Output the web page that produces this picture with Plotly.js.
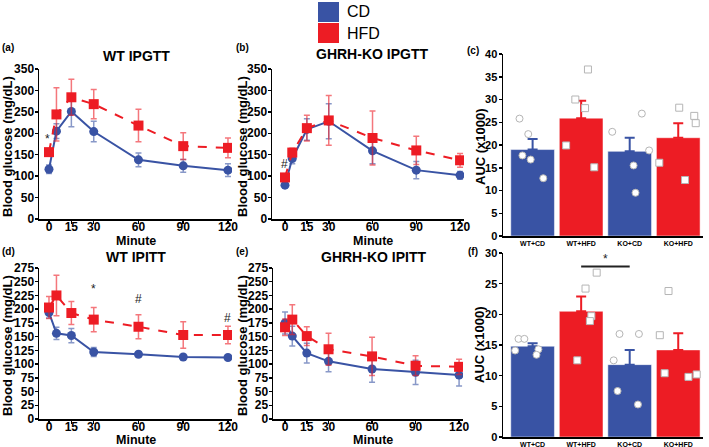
<!DOCTYPE html>
<html>
<head>
<meta charset="utf-8">
<script src="https://cdn.plot.ly/plotly-3.0.1.min.js"></script>
<style>body{margin:0;background:#fff}#chart{width:709px;height:447px}</style>
</head>
<body>
<div id="chart"></div>
<script>
// time points (min)
var minutes = [0, 5, 15, 30, 60, 90, 120];
var minuteTicks = [0, 15, 30, 60, 90, 120];

// (a) WT IPGTT
var gttWtCD = [116, 205, 251, 204, 138, 124, 114];
var gttWtCDErr = [10, 17, 36, 24, 16, 15, 15];
var gttWtHFD = [156, 244, 284, 268, 218, 170, 166];
var gttWtHFDErr = [8, 62, 42, 34, 38, 31, 23];

// (b) GHRH-KO IPGTT
var gttKoCD = [79, 141, 209, 228, 159, 114, 102];
var gttKoCDErr = [4, 12, 25, 41, 30, 20, 9];
var gttKoHFD = [97, 155, 212, 230, 189, 160, 137];
var gttKoHFDErr = [5, 10, 30, 58, 63, 33, 16];

// (d) WT IPITT
var ittWtCD = [194, 156, 152, 122, 118, 113, 112];
var ittWtCDErr = [10, 11, 13, 8, 3, 3, 5];
var ittWtHFD = [203, 225, 193, 181, 168, 153, 153];
var ittWtHFDErr = [20, 37, 21, 22, 22, 24, 16];

// (e) GHRH-KO IPITT
var ittKoCD = [175, 151, 120, 105, 91, 85, 80];
var ittKoCDErr = [20, 18, 18, 19, 24, 22, 20];
var ittKoHFD = [167, 181, 151, 127, 114, 97, 95];
var ittKoHFDErr = [15, 27, 17, 29, 35, 18, 14];

// bar groups
var groups = ['WT+CD', 'WT+HFD', 'KO+CD', 'KO+HFD'];

// (c) AUC IPGTT (x1000)
var aucGtt = [19.0, 25.9, 18.6, 21.6];
var aucGttErr = [2.3, 3.8, 3.0, 3.2];
var aucGttPts = [
    [25.8, 22.4, 17.7, 16.8, 12.7],
    [36.6, 30.0, 28.1, 19.9, 15.1],
    [22.9, 26.9, 18.8, 15.5, 9.5],
    [28.2, 26.4, 24.8, 16.1, 12.3]
];
var aucGttJitter = [
    [-0.27, -0.09, -0.21, -0.04, 0.22],
    [0.14, -0.12, 0.08, -0.31, 0.27],
    [-0.36, 0.25, 0.40, 0.08, 0.12],
    [0.02, 0.33, 0.36, -0.39, 0.14]
];

// (f) AUC IPITT (x1000)
var aucItt = [14.8, 20.5, 11.8, 14.2];
var aucIttErr = [0.5, 2.4, 2.4, 2.7];
var aucIttPts = [
    [16.0, 16.0, 14.1, 14.3, 13.4],
    [26.8, 24.2, 19.7, 18.9, 12.5],
    [16.8, 16.8, 12.5, 7.5, 5.3],
    [23.8, 16.6, 10.4, 9.8, 10.2]
];
var aucIttJitter = [
    [-0.29, -0.17, -0.36, 0.12, 0.08],
    [0.32, 0.09, 0.21, 0.18, -0.08],
    [-0.21, 0.19, -0.33, -0.25, 0.17],
    [-0.20, -0.38, -0.28, 0.21, 0.38]
];

var BLUE = '#3953a4', RED = '#ed1c24';
var BLUE_E = 'rgba(57,83,164,0.6)', RED_E = 'rgba(237,28,36,0.6)';
var FONT = 'Liberation Sans, Arial, sans-serif';

function lineTrace(y, err, color, errColor, symbol, size, dash, xa, ya) {
    return {
        x: minutes, y: y, xaxis: xa, yaxis: ya,
        type: 'scatter', mode: 'lines+markers',
        line: {color: color, width: 2, dash: dash},
        marker: {color: color, symbol: symbol, size: size},
        error_y: {type: 'data', array: err, color: errColor, thickness: 1.5, width: 3},
        showlegend: false, hoverinfo: 'skip'
    };
}

function barTraces(vals, errs, pts, jit, xa, ya) {
    var out = [];
    [[0, 2, BLUE], [1, 3, RED]].forEach(function (g) {
        out.push({
            x: [g[0], g[1]], y: [vals[g[0]], vals[g[1]]], xaxis: xa, yaxis: ya,
            type: 'bar', width: 0.9,
            marker: {color: g[2], line: {color: 'rgba(255,255,255,0.5)', width: 1}},
            error_y: {type: 'data', symmetric: false, array: [errs[g[0]], errs[g[1]]],
                arrayminus: [0, 0], color: g[2], thickness: 2, width: 5},
            showlegend: false, hoverinfo: 'skip'
        });
    });
    for (var i = 0; i < groups.length; i++) {
        out.push({
            x: jit[i].map(function (j) { return i + j; }), y: pts[i], xaxis: xa, yaxis: ya,
            type: 'scatter', mode: 'markers',
            marker: {color: 'white', symbol: i % 2 ? 'square' : 'circle', size: 7,
                line: {color: '#b5b5b5', width: 1}},
            showlegend: false, hoverinfo: 'skip'
        });
    }
    return out;
}

var traces = [
    lineTrace(gttWtCD, gttWtCDErr, BLUE, BLUE_E, 'circle', 9, 'solid', 'x', 'y'),
    lineTrace(gttWtHFD, gttWtHFDErr, RED, RED_E, 'square', 10, 'dash', 'x', 'y'),
    lineTrace(gttKoCD, gttKoCDErr, BLUE, BLUE_E, 'circle', 9, 'solid', 'x2', 'y2'),
    lineTrace(gttKoHFD, gttKoHFDErr, RED, RED_E, 'square', 10, 'dash', 'x2', 'y2'),
    lineTrace(ittWtCD, ittWtCDErr, BLUE, BLUE_E, 'circle', 9, 'solid', 'x4', 'y4'),
    lineTrace(ittWtHFD, ittWtHFDErr, RED, RED_E, 'square', 10, 'dash', 'x4', 'y4'),
    lineTrace(ittKoCD, ittKoCDErr, BLUE, BLUE_E, 'circle', 9, 'solid', 'x5', 'y5'),
    lineTrace(ittKoHFD, ittKoHFDErr, RED, RED_E, 'square', 10, 'dash', 'x5', 'y5')
].concat(barTraces(aucGtt, aucGttErr, aucGttPts, aucGttJitter, 'x3', 'y3'))
 .concat(barTraces(aucItt, aucIttErr, aucIttPts, aucIttJitter, 'x6', 'y6'));

function axis(extra) {
    var a = {
        showline: true, linecolor: 'black', linewidth: 1.5,
        ticks: 'outside', ticklen: 3, tickwidth: 1.5, tickcolor: 'black',
        showgrid: false, zeroline: false, fixedrange: true,
        tickfont: {family: FONT, size: 12, color: 'black', weight: 'bold'}
    };
    for (var k in extra) a[k] = extra[k];
    return a;
}

function px(x) { return x / 709; }
function py(y) { return 1 - y / 447; }

function txt(text, x, y, size, bold, angle) {
    return {
        text: text, xref: 'paper', yref: 'paper', x: px(x), y: py(y),
        showarrow: false, textangle: angle || 0, xanchor: 'center', yanchor: 'middle',
        font: {family: FONT, size: size, color: 'black', weight: bold ? 'bold' : 'normal'}
    };
}

function mark(text, xv, yv, xa, ya) {
    return {
        text: text, xref: xa, yref: ya, x: xv, y: yv, showarrow: false,
        font: {family: FONT, size: 12, color: '#222'}
    };
}

var barTickFont = {family: FONT, size: 7, color: 'black', weight: 'bold'};
var barYFont = {family: FONT, size: 11, color: 'black', weight: 'bold'};
var gttY = [py(219), py(69)];
var ittY = [py(419), py(268)];

var layout = {
    width: 709, height: 447,
    margin: {l: 0, r: 0, t: 0, b: 0},
    paper_bgcolor: 'white', plot_bgcolor: 'white',
    barmode: 'overlay', showlegend: false,
    xaxis: axis({domain: [px(39), px(232)], range: [-6.7, 122.7], tickvals: minuteTicks,
        ticklabelstandoff: -7, anchor: 'y'}),
    yaxis: axis({domain: gttY, range: [0, 350], dtick: 50, ticklabelstandoff: -2, anchor: 'x'}),
    xaxis2: axis({domain: [px(272), px(464)], range: [-8.9, 122.7], tickvals: minuteTicks,
        ticklabelstandoff: -7, anchor: 'y2'}),
    yaxis2: axis({domain: gttY, range: [0, 350], dtick: 50, ticklabelstandoff: -2, anchor: 'x2'}),
    xaxis3: axis({domain: [px(503), px(703)], range: [-0.61, 3.51], tickvals: [0, 1, 2, 3],
        ticktext: groups, ticks: '', tickfont: barTickFont, anchor: 'y3'}),
    yaxis3: axis({domain: [py(236), py(54)], range: [0, 40], dtick: 5, tickfont: barYFont,
        ticklabelstandoff: -1, anchor: 'x3'}),
    xaxis4: axis({domain: [px(39), px(232)], range: [-6.7, 122.7], tickvals: minuteTicks,
        ticklabelstandoff: -7, anchor: 'y4'}),
    yaxis4: axis({domain: ittY, range: [0, 275], dtick: 25, ticklabelstandoff: -2, anchor: 'x4'}),
    xaxis5: axis({domain: [px(273), px(463)], range: [-8.3, 122.7], tickvals: minuteTicks,
        ticklabelstandoff: -7, anchor: 'y5'}),
    yaxis5: axis({domain: ittY, range: [0, 275], dtick: 25, ticklabelstandoff: -2, anchor: 'x5'}),
    xaxis6: axis({domain: [px(503), px(703)], range: [-0.61, 3.51], tickvals: [0, 1, 2, 3],
        ticktext: groups, ticks: '', tickfont: barTickFont, anchor: 'y6'}),
    yaxis6: axis({domain: [py(437), py(253)], range: [0, 30], dtick: 5, tickfont: barYFont,
        ticklabelstandoff: -1, anchor: 'x6'}),
    shapes: [
        {type: 'rect', xref: 'paper', yref: 'paper', x0: px(318), x1: px(339), y0: py(22), y1: py(2),
            fillcolor: BLUE, line: {width: 0}},
        {type: 'rect', xref: 'paper', yref: 'paper', x0: px(318), x1: px(339), y0: py(43), y1: py(23),
            fillcolor: RED, line: {width: 0}},
        {type: 'line', xref: 'x6', yref: 'y6', x0: 1, x1: 2, y0: 27.8, y1: 27.8,
            line: {color: '#222', width: 2}}
    ],
    annotations: [
        {text: 'CD', xref: 'paper', yref: 'paper', x: px(345), y: py(12), xanchor: 'left', yanchor: 'middle',
            showarrow: false, font: {family: FONT, size: 16, color: 'black'}},
        {text: 'HFD', xref: 'paper', yref: 'paper', x: px(345), y: py(33), xanchor: 'left', yanchor: 'middle',
            showarrow: false, font: {family: FONT, size: 16, color: 'black'}},
        txt('(a)', 8, 48, 10, true), txt('(b)', 242, 48, 10, true), txt('(c)', 473, 50, 10, true),
        txt('(d)', 8, 252, 10, true), txt('(e)', 242, 252, 10, true), txt('(f)', 473, 252, 10, true),
        txt('WT IPGTT', 136, 56, 14, true), txt('GHRH-KO IPGTT', 372, 54, 14, true),
        txt('WT IPITT', 136, 257, 14, true), txt('GHRH-KO IPITT', 374, 257, 14, true),
        txt('Blood glucose (mg/dL)', 7, 147, 13, true, -90),
        txt('Blood glucose (mg/dL)', 242, 147, 13, true, -90),
        txt('Blood glucose (mg/dL)', 7, 346, 13, true, -90),
        txt('Blood glucose (mg/dL)', 242, 346, 13, true, -90),
        txt('AUC (x1000)', 480, 146, 13, true, -90),
        txt('AUC (x1000)', 479, 344, 13, true, -90),
        txt('Minute', 136, 241, 12.5, true), txt('Minute', 373, 241, 12.5, true),
        txt('Minute', 136, 440, 12.5, true), txt('Minute', 373, 440, 12.5, true),
        mark('*', -1, 187, 'x', 'y'),
        mark('#', 0, 129, 'x2', 'y2'),
        mark('*', 30, 236, 'x4', 'y4'),
        mark('#', 60, 218, 'x4', 'y4'),
        mark('#', 120, 184, 'x4', 'y4'),
        mark('*', 1.5, 29.0, 'x6', 'y6')
    ]
};

Plotly.newPlot('chart', traces, layout, {displayModeBar: false, staticPlot: true});
</script>
</body>
</html>
